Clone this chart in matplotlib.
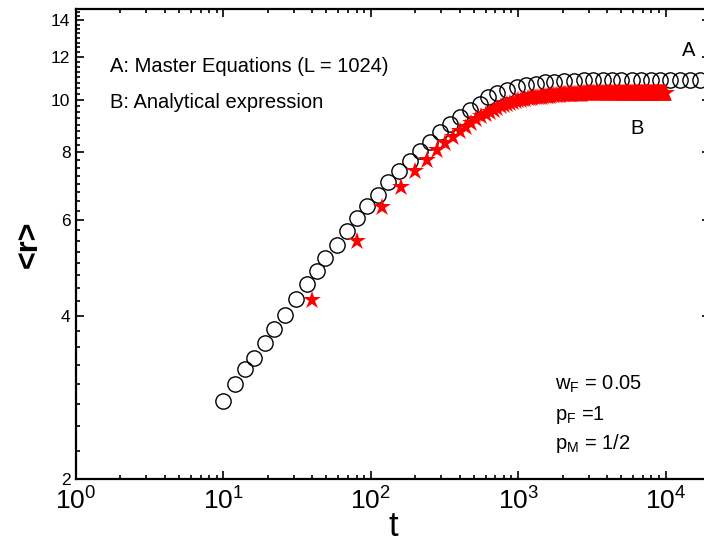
import numpy as np
import matplotlib
matplotlib.use("Agg")
import matplotlib.pyplot as plt
from matplotlib.ticker import FixedLocator, MultipleLocator, LogLocator, NullFormatter

plt.rcParams['font.family'] = ['Liberation Sans', 'DejaVu Sans']
plt.rcParams['mathtext.fontset'] = 'custom'
plt.rcParams['mathtext.rm'] = 'Liberation Sans'
plt.rcParams['mathtext.it'] = 'Liberation Sans'

# A: master equations (open circles)
t_A = [10, 12, 14, 16, 19, 22, 26, 31, 37, 43,
       49, 59, 69, 80, 94, 111, 131, 155, 183, 214,
       251, 293, 343, 401, 469, 549, 622, 720, 842, 985,
       1133, 1325, 1527, 1759, 2056, 2404, 2812, 3238, 3786, 4359,
       5019, 5870, 6761, 7909, 9107, 10650, 12450, 14560, 17030]
r_A = [2.79, 3.00, 3.19, 3.35, 3.57, 3.78, 4.02, 4.30, 4.58, 4.84,
       5.10, 5.41, 5.74, 6.06, 6.36, 6.69, 7.05, 7.38, 7.71, 8.05,
       8.37, 8.71, 9.04, 9.31, 9.59, 9.84, 10.10, 10.30, 10.44, 10.56,
       10.63, 10.71, 10.77, 10.80, 10.83, 10.85, 10.86, 10.87, 10.87, 10.87,
       10.87, 10.87, 10.87, 10.87, 10.87, 10.87, 10.87, 10.87, 10.87]

# B: analytical expression (red stars), t = 40, 80, ..., 10000
t_B = list(range(40, 10001, 40))
r_B = [4.27, 5.50, 6.34, 6.92, 7.38, 7.76, 8.07, 8.33, 8.55, 8.75,
       8.92, 9.07, 9.20, 9.32, 9.42, 9.51, 9.59, 9.66, 9.72, 9.78,
       9.83, 9.87, 9.91, 9.94, 9.97, 10.00, 10.02, 10.04, 10.06, 10.08,
       10.09, 10.10, 10.11, 10.12, 10.13, 10.14, 10.15, 10.16, 10.17, 10.18,
       10.18, 10.19, 10.20, 10.20, 10.21, 10.21, 10.22, 10.22, 10.23, 10.23,
       10.24, 10.24, 10.24, 10.25, 10.25, 10.25, 10.25, 10.26, 10.26, 10.26,
       10.26, 10.26, 10.27, 10.27, 10.27, 10.27, 10.27, 10.27, 10.28, 10.28,
       10.28, 10.28, 10.28, 10.28, 10.28, 10.28, 10.29, 10.29, 10.29, 10.29,
       10.29, 10.29, 10.29, 10.29, 10.29, 10.29, 10.29, 10.29, 10.29, 10.29,
       10.30, 10.30, 10.30, 10.30, 10.30, 10.30, 10.30, 10.30, 10.30, 10.30,
       10.30, 10.30, 10.30, 10.30, 10.30, 10.30, 10.30, 10.30, 10.30, 10.30,
       10.30, 10.30, 10.30, 10.30, 10.30, 10.30, 10.30, 10.30, 10.30, 10.30,
       10.30, 10.30, 10.30, 10.30, 10.30, 10.30, 10.30, 10.30, 10.30, 10.30,
       10.30, 10.30, 10.30, 10.30, 10.30, 10.30, 10.30, 10.30, 10.30, 10.30,
       10.30, 10.30, 10.30, 10.30, 10.30, 10.30, 10.30, 10.30, 10.30, 10.30,
       10.30, 10.30, 10.30, 10.30, 10.30, 10.30, 10.30, 10.30, 10.30, 10.30,
       10.30, 10.30, 10.30, 10.30, 10.30, 10.30, 10.30, 10.30, 10.30, 10.30,
       10.30, 10.30, 10.30, 10.30, 10.30, 10.30, 10.30, 10.30, 10.30, 10.30,
       10.30, 10.30, 10.30, 10.30, 10.30, 10.30, 10.30, 10.30, 10.30, 10.30,
       10.30, 10.30, 10.30, 10.30, 10.30, 10.30, 10.30, 10.30, 10.30, 10.30,
       10.30, 10.30, 10.30, 10.30, 10.30, 10.30, 10.30, 10.30, 10.30, 10.30,
       10.30, 10.30, 10.30, 10.30, 10.30, 10.30, 10.30, 10.30, 10.30, 10.30,
       10.30, 10.30, 10.30, 10.30, 10.30, 10.30, 10.30, 10.30, 10.30, 10.30,
       10.30, 10.30, 10.30, 10.30, 10.30, 10.30, 10.30, 10.30, 10.30, 10.30,
       10.30, 10.30, 10.30, 10.30, 10.30, 10.30, 10.30, 10.30, 10.30, 10.30]

y_ticks = [2, 4, 6, 8, 10, 12, 14]
x_ticks = [1, 10, 100, 1000, 10000]
x_labels = [r'$\mathregular{10^{%d}}$' % i for i in range(5)]

fig = plt.figure(figsize=(7.04, 5.45), dpi=100)
# right edge of the frame falls just outside the picture, as in the original
ax = fig.add_axes([0.108, 0.121, 0.9005, 0.8625])

ax.plot(t_B, r_B, linestyle='none', marker='*', color='red', markersize=13.5, markeredgewidth=0, zorder=3)
ax.plot(t_A, r_A, linestyle='none', marker='o', markerfacecolor='none', markeredgecolor='black',
        markersize=11, markeredgewidth=1.0, zorder=2)

ax.set_xscale('log')
ax.set_yscale('log')
ax.set_xlim(1, 2e4)
ax.set_ylim(2, 14.7)

ax.xaxis.set_major_locator(FixedLocator(x_ticks))
ax.set_xticklabels(x_labels)
ax.xaxis.set_minor_locator(LogLocator(base=10, subs=np.arange(2, 10)))
ax.xaxis.set_minor_formatter(NullFormatter())

ax.yaxis.set_major_locator(FixedLocator(y_ticks))
ax.set_yticklabels([str(v) for v in y_ticks])
ax.yaxis.set_minor_locator(MultipleLocator(0.25))
ax.yaxis.set_minor_formatter(NullFormatter())

for s in ax.spines.values():
    s.set_linewidth(1.6)
ax.tick_params(which='both', direction='in', top=True, right=True, width=1.2)
ax.tick_params(which='major', length=6)
ax.tick_params(which='minor', length=3)
ax.tick_params(axis='x', which='major', labelsize=19, pad=6)
ax.tick_params(axis='y', which='major', labelsize=12.5, pad=4)

ax.set_xlabel('t', fontsize=25, labelpad=-3)
ax.set_ylabel('<r>', fontsize=22, fontweight='bold', labelpad=5)

ax.text(0.054, 0.866, 'A: Master Equations (L = 1024)', transform=ax.transAxes, fontsize=14.5)
ax.text(0.054, 0.79, 'B: Analytical expression', transform=ax.transAxes, fontsize=14.5)
ax.text(0.955, 0.9, 'A', transform=ax.transAxes, fontsize=14.5)
ax.text(0.875, 0.735, 'B', transform=ax.transAxes, fontsize=14.5)

ax.text(0.755, 0.19, r'w$_\mathregular{F}$ = 0.05', transform=ax.transAxes, fontsize=14.5)
ax.text(0.755, 0.125, r'p$_\mathregular{F}$ =1', transform=ax.transAxes, fontsize=14.5)
ax.text(0.755, 0.063, r'p$_\mathregular{M}$ = 1/2', transform=ax.transAxes, fontsize=14.5)

fig.savefig('out.png', dpi=100)
